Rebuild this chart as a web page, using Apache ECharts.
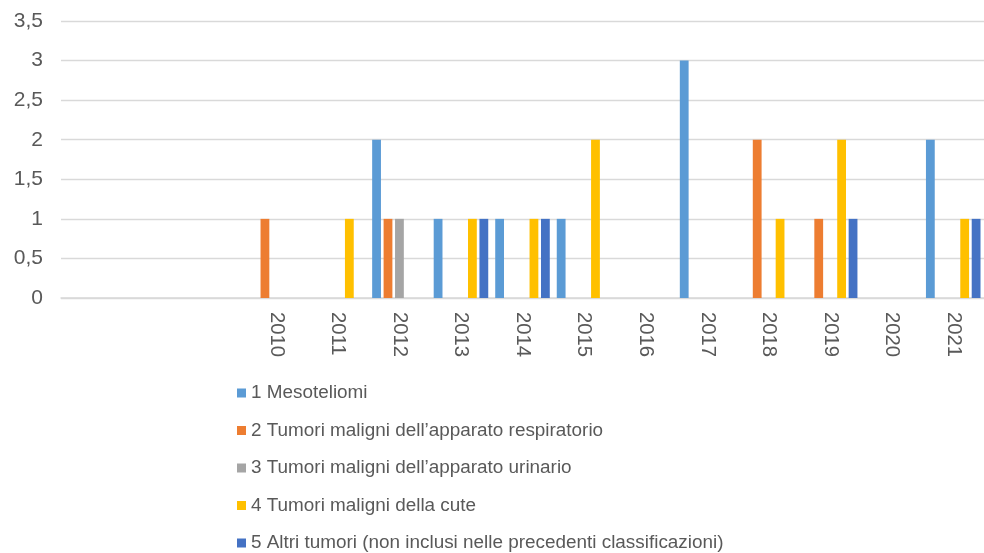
<!DOCTYPE html>
<html>
<head>
<meta charset="utf-8">
<script src="https://cdn.jsdelivr.net/npm/echarts@6/dist/echarts.min.js"></script>
<style>
  html, body { margin: 0; padding: 0; background: #ffffff; }
  #chart { width: 984px; height: 553px; }
</style>
</head>
<body>
<div id="chart"></div>
<script>
// Years on the category axis (the first three slots carry no label)
const categories = ['', '', '', '2010', '2011', '2012', '2013', '2014', '2015', '2016', '2017', '2018', '2019', '2020', '2021'];

// Cases per year for each tumour group
const mesoteliomi   = [null, null, null, null, null, 2, 1, 1, 1, null, 3, null, null, null, 2];
const respiratorio  = [null, null, null, 1, null, 1, null, null, null, null, null, 2, 1, null, null];
const urinario      = [null, null, null, null, null, 1, null, null, null, null, null, null, null, null, null];
const cute          = [null, null, null, null, 1, null, 1, 1, 2, null, null, 1, 2, null, 1];
const altriTumori   = [null, null, null, null, null, null, 1, 1, null, null, null, null, 1, null, 1];

const seriesNames = [
  '1 Mesoteliomi',
  '2 Tumori maligni dell\u2019apparato respiratorio',
  '3 Tumori maligni dell\u2019apparato urinario',
  '4 Tumori maligni della cute',
  '5 Altri tumori (non inclusi nelle precedenti classificazioni)'
];
const seriesData = [mesoteliomi, respiratorio, urinario, cute, altriTumori];
const colors = ['#5B9BD5', '#ED7D31', '#A5A5A5', '#FFC000', '#4472C4'];

const textColor = '#595959';
const fontFamily = '"Liberation Sans", Arial, sans-serif';

const chart = echarts.init(document.getElementById('chart'), null, { renderer: 'canvas' });

chart.setOption({
  animation: false,
  color: colors,
  grid: { left: 61, top: 21, width: 927, height: 277, containLabel: false },
  legend: {
    orient: 'vertical',
    left: 237,
    top: 383,
    height: 260,
    padding: 0,
    itemWidth: 9,
    itemHeight: 9,
    itemGap: 17.5,
    icon: 'rect',
    textStyle: { color: textColor, fontSize: 18.9, fontFamily: fontFamily, lineHeight: 20 },
    data: seriesNames
  },
  xAxis: {
    type: 'category',
    data: categories,
    axisLine: { show: true, lineStyle: { color: '#d9d9d9', width: 1.5 } },
    axisTick: { show: false },
    axisLabel: {
      rotate: -90,
      margin: 14,
      interval: 0,
      color: textColor,
      fontSize: 20.3,
      fontFamily: fontFamily
    },
    splitLine: { show: false }
  },
  yAxis: {
    type: 'value',
    min: 0,
    max: 3.5,
    interval: 0.5,
    axisLine: { show: false },
    axisTick: { show: false },
    axisLabel: {
      margin: 18,
      color: textColor,
      fontSize: 21,
      fontFamily: fontFamily,
      formatter: v => String(v).replace('.', ',')
    },
    splitLine: { lineStyle: { color: '#d9d9d9', width: 1.3 } }
  },
  series: seriesData.map((d, i) => ({
    name: seriesNames[i],
    type: 'bar',
    data: d,
    barWidth: 8.8,
    barGap: '30%',
    itemStyle: { color: colors[i] }
  }))
});
</script>
</body>
</html>
